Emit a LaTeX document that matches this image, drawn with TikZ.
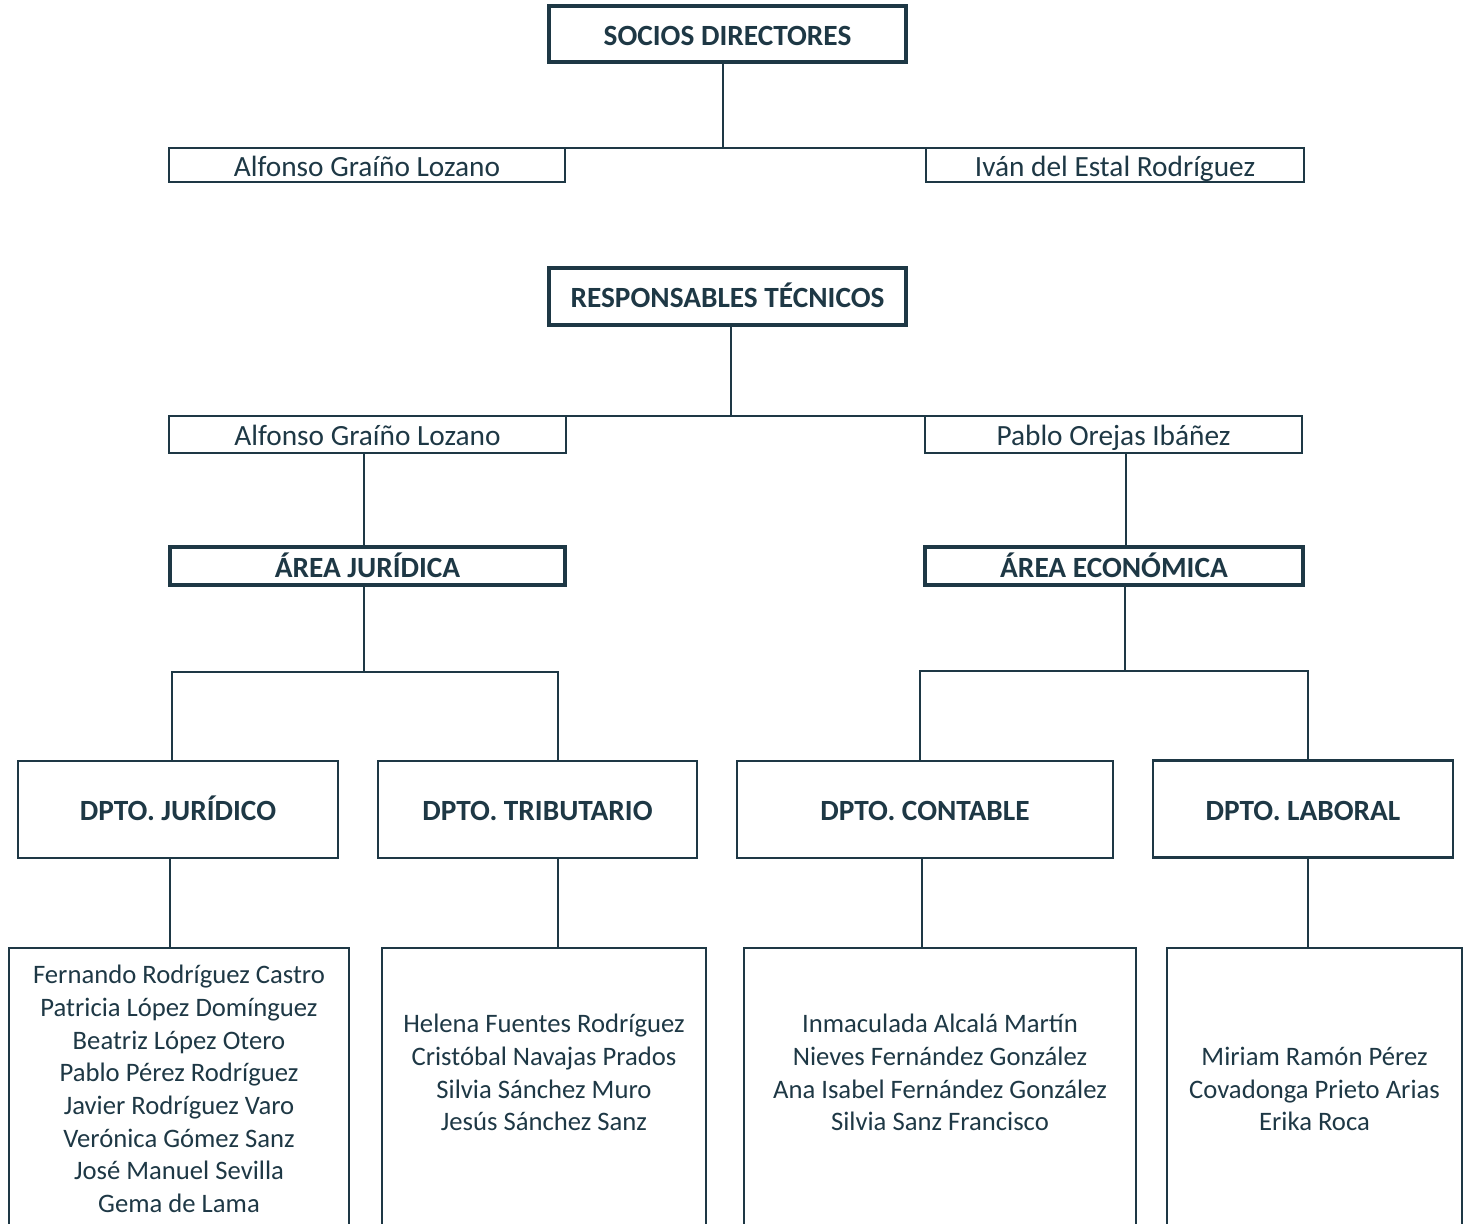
\documentclass[tikz,border=0pt]{standalone}
\usepackage{fontspec}
\setmainfont{Carlito}
\definecolor{ink}{RGB}{30,56,69}
\tikzset{
  base/.style={draw=ink, text=ink, inner sep=0pt, outer sep=0pt, text height=17pt, text depth=0pt, font=\fontsize{22}{26.5}\selectfont},
  namebox/.style={base, line width=1.6pt},
  titlebox/.style={base, line width=3pt, font=\bfseries\fontsize{22}{26.5}\selectfont},
  deptbox/.style={base, line width=1.8pt, font=\bfseries\fontsize{22}{26.5}\selectfont},
  listbox/.style={draw=ink, inner sep=0pt, outer sep=0pt, line width=1.8pt, anchor=north, minimum height=225pt},
  listtext/.style={text=ink, inner sep=0pt, align=center, font=\fontsize{20}{24.5}\selectfont},
  conn/.style={draw=ink, line width=1pt},
  topline/.style={draw=ink, line width=1.6pt}
}
\begin{document}
\begin{tikzpicture}[x=0.75pt,y=-0.75pt]
\useasboundingbox (0,0) rectangle (1472,1224);
\clip (0,0) rectangle (1472,1224);
% level 1
\node[titlebox, minimum width=357*0.75pt, minimum height=56*0.75pt] (socios) at (727.5,34) {SOCIOS DIRECTORES};
\node[namebox, minimum width=396*0.75pt, minimum height=34*0.75pt] (alf1) at (367,165) {Alfonso Graíño Lozano};
\node[namebox, minimum width=378*0.75pt, minimum height=34*0.75pt] (ivan) at (1115,165) {Iván del Estal Rodríguez};
% level 2
\node[titlebox, minimum width=357*0.75pt, minimum height=57*0.75pt] (resp) at (727.5,296.5) {RESPONSABLES TÉCNICOS};
\node[namebox, minimum width=397*0.75pt, minimum height=37*0.75pt] (alf2) at (367.5,434.5) {Alfonso Graíño Lozano};
\node[namebox, minimum width=377*0.75pt, minimum height=37*0.75pt] (pablo) at (1113.5,434.5) {Pablo Orejas Ibáñez};
% areas
\node[titlebox, minimum width=395*0.75pt, minimum height=38*0.75pt] (areaj) at (367.5,566) {ÁREA JURÍDICA};
\node[titlebox, minimum width=378*0.75pt, minimum height=38*0.75pt] (areae) at (1114,566) {ÁREA ECONÓMICA};
% departments
\node[deptbox, minimum width=320*0.75pt, minimum height=97*0.75pt] (dj) at (178,809.5) {DPTO. JURÍDICO};
\node[deptbox, minimum width=319*0.75pt, minimum height=97*0.75pt] (dt) at (537.5,809.5) {DPTO. TRIBUTARIO};
\node[deptbox, minimum width=376*0.75pt, minimum height=97*0.75pt] (dc) at (925,809.5) {DPTO. CONTABLE};
\node[deptbox, minimum width=300*0.75pt, minimum height=97*0.75pt] (dl) at (1303,809) {DPTO. LABORAL};
% lists
\node[listbox, minimum width=340*0.75pt] (lj) at (179,948) {};
\node[listbox, minimum width=324*0.75pt] (lt) at (544,948) {};
\node[listbox, minimum width=392*0.75pt] (lc) at (940,948) {};
\node[listbox, minimum width=295*0.75pt] (ll) at (1314.5,948) {};
\node[listtext] (tj) at (179,1089) {Fernando Rodríguez Castro\\Patricia López Domínguez\\Beatriz López Otero\\Pablo Pérez Rodríguez\\Javier Rodríguez Varo\\Verónica Gómez Sanz\\José Manuel Sevilla\\Gema de Lama};
\node[listtext] (tt) at (544,1072.5) {Helena Fuentes Rodríguez\\Cristóbal Navajas Prados\\Silvia Sánchez Muro\\Jesús Sánchez Sanz};
\node[listtext] (tc) at (940,1072.5) {Inmaculada Alcalá Martín\\Nieves Fernández González\\Ana Isabel Fernández González\\Silvia Sanz Francisco};
\node[listtext] (tl) at (1314.5,1089) {Miriam Ramón Pérez\\Covadonga Prieto Arias\\Erika Roca};
% helper coordinates
\coordinate (x1) at (723,0);
\coordinate (x2) at (731,0);
\coordinate (x3) at (364,0);
\coordinate (x4) at (1126,0);
\coordinate (jm) at (364,672);
\coordinate (jl) at (172,672);
\coordinate (jr) at (558,672);
\coordinate (em) at (1125,671);
\coordinate (el) at (920,671);
\coordinate (er) at (1308,671);
\coordinate (xj) at (170,0);
\coordinate (xt) at (558,0);
\coordinate (xc) at (922,0);
\coordinate (xl) at (1308,0);
% connectors
\draw[conn] (x1 |- socios.south) -- (x1 |- alf1.north);
\draw[topline] (alf1.north east) -- (ivan.north west);
\draw[conn] (x2 |- resp.south) -- (x2 |- alf2.north);
\draw[topline] (alf2.north east) -- (pablo.north west);
\draw[conn] (x3 |- alf2.south) -- (x3 |- areaj.north);
\draw[conn] (x4 |- pablo.south) -- (x4 |- areae.north);
\draw[conn] (jm |- areaj.south) -- (jm);
\draw[conn] (jl |- dj.north) -- (jl) -- (jr) -- (jr |- dt.north);
\draw[conn] (em |- areae.south) -- (em);
\draw[conn] (el |- dc.north) -- (el) -- (er) -- (er |- dl.north);
\draw[conn] (xj |- dj.south) -- (xj |- lj.north);
\draw[conn] (xt |- dt.south) -- (xt |- lt.north);
\draw[conn] (xc |- dc.south) -- (xc |- lc.north);
\draw[conn] (xl |- dl.south) -- (xl |- ll.north);
\end{tikzpicture}
\end{document}
